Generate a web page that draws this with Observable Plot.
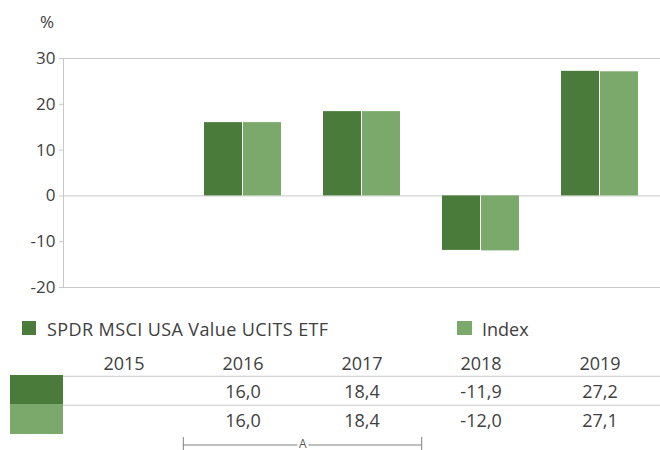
<!DOCTYPE html>
<html>
<head>
<meta charset="utf-8">
<script src="https://cdn.jsdelivr.net/npm/d3@7"></script>
<script src="https://cdn.jsdelivr.net/npm/@observablehq/plot@0.6"></script>
<style>
  body { margin: 0; background: #fff; font-family: "Open Sans", sans-serif; color: #404040; }
  #wrap { position: relative; width: 660px; height: 450px; overflow: hidden; }
  #chart, #table { position: absolute; left: 0; }
  #chart { top: 0; }
  #table { top: 300px; }
  .abs { position: absolute; font-size: 18px; line-height: 18px; white-space: nowrap; }
  .sw { position: absolute; }
</style>
</head>
<body>
<div id="wrap">
  <div id="chart"></div>
  <div id="table"></div>
</div>
<script>
// ---- data ----
const years = ["2015", "2016", "2017", "2018", "2019"];
const seriesNames = ["SPDR MSCI USA Value UCITS ETF", "Index"];
const fundValues = [null, 16.0, 18.4, -11.9, 27.2];
const indexValues = [null, 16.0, 18.4, -12.0, 27.1];
const yTicks = [-20, -10, 0, 10, 20, 30];
const yUnit = "%";
const bracketFrom = "2016";
const bracketTo = "2017";
const bracketLabel = "A";

// ---- styles ----
const colors = ["#4a7b3b", "#7aa96b"];
const lineColor = "#c8c8c8";
const textColor = "#404040";
const font = '"Open Sans", sans-serif';

const W = 660, ML = 63, MR = 0;
const padIn = 0.355;
const step = (W - ML - MR) / years.length;
const bw = step * (1 - padIn);
const half = bw / 2 + 0.5;

const fund = years.map((y, i) => ({year: y, value: fundValues[i]})).filter(d => d.value != null);
const idx = years.map((y, i) => ({year: y, value: indexValues[i]})).filter(d => d.value != null);

const chart = Plot.plot({
  width: W, height: 300,
  marginTop: 58, marginBottom: 13, marginLeft: ML, marginRight: MR,
  style: {fontFamily: font, fontSize: "17px", color: textColor, background: "transparent"},
  x: {type: "band", domain: years, paddingInner: padIn, paddingOuter: padIn / 2, axis: null},
  y: {domain: [yTicks[0], yTicks[yTicks.length - 1]], axis: null},
  marks: [
    Plot.frame({stroke: lineColor, insetRight: -3}),
    Plot.ruleY([0], {stroke: lineColor}),
    Plot.axisY(yTicks, {tickSize: 4, tickPadding: 4, stroke: lineColor, fill: textColor, label: null, fontSize: 17, tickFormat: d => String(d)}),
    Plot.barY(fund, {x: "year", y: "value", fill: colors[0], insetRight: half}),
    Plot.barY(idx, {x: "year", y: "value", fill: colors[1], insetLeft: half})
  ]
});
document.getElementById("chart").appendChild(chart);

// ---- table ----
const loc = d3.formatLocale({decimal: ",", thousands: ".", grouping: [3], currency: ["", ""], minus: "-"});
const fmt = loc.format(".1f");
const rows = ["year", "fund", "index", "bracket"];
const rowH = 29.5;
const rowTop = 45.5;
const cells = [];
years.forEach((y, i) => {
  if (fundValues[i] != null) cells.push({year: y, row: "fund", label: fmt(fundValues[i])});
  if (indexValues[i] != null) cells.push({year: y, row: "index", label: fmt(indexValues[i])});
});

const table = Plot.plot({
  width: W, height: 150,
  marginTop: 0, marginBottom: 0, marginLeft: ML, marginRight: MR,
  style: {fontFamily: font, fontSize: "18px", color: textColor, background: "transparent"},
  x: {type: "band", domain: years, padding: 0, axis: null},
  y: {type: "band", domain: rows, range: [rowTop, rowTop + rows.length * rowH], padding: 0, axis: null},
  marks: [
    Plot.ruleY(["fund", "index"], {y: d => d, dy: -rowH / 2, stroke: lineColor}),
    Plot.text(years, {x: d => d, y: () => "year", text: d => d, fill: textColor, fontSize: 18, dy: 2.5}),
    Plot.text(cells, {x: "year", y: "row", text: "label", fill: textColor, fontSize: 18, dy: 1.5}),
    Plot.ruleY([0], {x1: () => bracketFrom, x2: () => bracketTo, y: () => "bracket", dy: -4, stroke: "#808080"}),
    Plot.ruleX([0], {x: () => bracketFrom, y1: () => "bracket", y2: () => "bracket", dx: -step / 2, insetTop: 3, stroke: "#808080"}),
    Plot.ruleX([0], {x: () => bracketTo, y1: () => "bracket", y2: () => "bracket", dx: step / 2, insetTop: 3, stroke: "#808080"}),
    Plot.text([bracketLabel], {x: () => bracketFrom, y: () => "bracket", text: d => d, dx: step / 2, dy: -4.5, fontSize: 12, fill: "#555", stroke: "white", strokeWidth: 5})
  ]
});
document.getElementById("table").appendChild(table);

// ---- legend and labels (HTML) ----
const wrap = document.getElementById("wrap");
function add(txt, css, cls) {
  const d = document.createElement("div");
  d.className = cls;
  Object.assign(d.style, css);
  d.textContent = txt;
  wrap.appendChild(d);
  return d;
}
add(yUnit, {left: "40px", top: "13px", fontSize: "17px"}, "abs");
add("", {left: "22px", top: "321px", width: "14px", height: "14px", background: colors[0]}, "sw");
add(seriesNames[0], {left: "47px", top: "320px", letterSpacing: "0.4px"}, "abs");
add("", {left: "457px", top: "321px", width: "15px", height: "14px", background: colors[1]}, "sw");
add(seriesNames[1], {left: "482px", top: "320px"}, "abs");
add("", {left: "10px", top: "375px", width: "53px", height: "29px", background: colors[0]}, "sw");
add("", {left: "10px", top: "404px", width: "53px", height: "30px", background: colors[1]}, "sw");
</script>
</body>
</html>
